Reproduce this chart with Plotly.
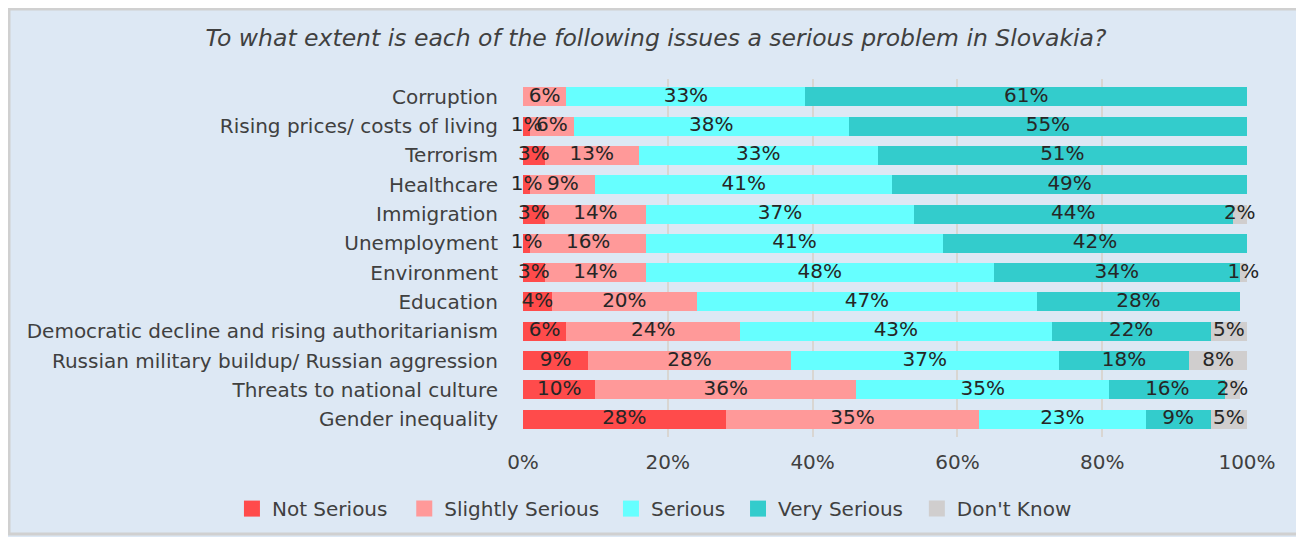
import plotly.graph_objects as go

# the page adds an 8px body margin, so the figure is a bit smaller than the window
W, H = 1296, 529
MARGIN = dict(l=515, r=57, t=71, b=100, autoexpand=False)

BG_COLOR = '#dde8f4'
TEXT_COLOR = '#404040'
GRID_COLOR = '#d9d6d2'
FONT = 'DejaVu Sans'
FONT_SIZE = 20

issues = [
    'Corruption',
    'Rising prices/ costs of living',
    'Terrorism',
    'Healthcare',
    'Immigration',
    'Unemployment',
    'Environment',
    'Education',
    'Democratic decline and rising authoritarianism',
    'Russian military buildup/ Russian aggression',
    'Threats to national culture',
    'Gender inequality',
]

not_serious = [0, 1, 3, 1, 3, 1, 3, 4, 6, 9, 10, 28]
slightly_serious = [6, 6, 13, 9, 14, 16, 14, 20, 24, 28, 36, 35]
serious = [33, 38, 33, 41, 37, 41, 48, 47, 43, 37, 35, 23]
very_serious = [61, 55, 51, 49, 44, 42, 34, 28, 22, 18, 16, 9]
dont_know = [0, 0, 0, 0, 2, 0, 1, 0, 5, 8, 2, 5]

series = [
    ('Not Serious', not_serious, '#ff4b4b'),
    ('Slightly Serious', slightly_serious, '#ff9999'),
    ('Serious', serious, '#66ffff'),
    ('Very Serious', very_serious, '#33cccc'),
    ("Don't Know", dont_know, '#d0cece'),
]

x_ticks = [0, 20, 40, 60, 80, 100]

# left edge of each legend entry (paper coords) - legend is laid out by hand
legend_x = [-0.402, -0.164, 0.1215, 0.297, 0.544]

fig = go.Figure()
for name, values, colour in series:
    fig.add_trace(go.Bar(
        y=issues, x=values, name=name, orientation='h',
        marker=dict(color=colour, line_width=0),
        hoverinfo='x+y+name', showlegend=False,
    ))

# data labels on top of every bar so tiny segments overflow like in Excel
cum = [0] * len(issues)
for name, values, colour in series:
    mids = [c + v / 2 for c, v in zip(cum, values)]
    cum = [c + v for c, v in zip(cum, values)]
    fig.add_trace(go.Scatter(
        x=mids, y=issues, mode='text',
        text=[f'{v}%' if v > 0 else '' for v in values],
        textposition='middle center', cliponaxis=False,
        textfont=dict(color='#262626', size=FONT_SIZE, family=FONT),
        showlegend=False, hoverinfo='skip',
    ))

# legend entries with big square swatches, one legend box each
for i, (name, values, colour) in enumerate(series):
    fig.add_trace(go.Scatter(
        x=[None], y=[None], mode='markers', name=name,
        marker=dict(symbol='square', size=16, color=colour),
        showlegend=True, hoverinfo='skip',
        legend='legend' if i == 0 else f'legend{i + 1}',
    ))

legend_style = dict(
    orientation='h', y=-0.2, yanchor='middle', xanchor='left',
    font=dict(size=FONT_SIZE, color=TEXT_COLOR, family=FONT),
    itemwidth=30, bgcolor='rgba(0,0,0,0)',
)
legends = {}
for i, lx in enumerate(legend_x):
    key = 'legend' if i == 0 else f'legend{i + 1}'
    legends[key] = dict(legend_style, x=lx)

fig.update_layout(
    barmode='stack',
    bargap=0.35,
    width=W, height=H,
    margin=MARGIN,
    paper_bgcolor=BG_COLOR,
    plot_bgcolor=BG_COLOR,
    font=dict(family=FONT, color=TEXT_COLOR, size=FONT_SIZE),
    title=dict(
        text='<i>To what extent is each of the following issues a serious problem in Slovakia?</i>',
        x=0.5, xanchor='center', y=0.9433, yanchor='middle',
        font=dict(size=23.5, color=TEXT_COLOR, family=FONT),
    ),
    **legends,
)

fig.update_xaxes(
    range=[0, 100], tickvals=x_ticks, ticktext=[f'{t}%' for t in x_ticks],
    showgrid=True, gridcolor=GRID_COLOR, gridwidth=2,
    zeroline=False, showline=False, automargin=False,
    ticks='outside', ticklen=7, tickcolor='rgba(0,0,0,0)',
    tickfont=dict(size=FONT_SIZE, color=TEXT_COLOR),
    fixedrange=True,
)
fig.update_yaxes(
    autorange='reversed', showgrid=False, automargin=False,
    ticks='outside', ticklen=20, tickcolor='rgba(0,0,0,0)',
    tickfont=dict(size=FONT_SIZE, color=TEXT_COLOR),
    fixedrange=True,
)

# frame around the chart, like the original slide box
pw = W - MARGIN['l'] - MARGIN['r']
ph = H - MARGIN['t'] - MARGIN['b']
fig.add_shape(
    type='rect', xref='paper', yref='paper',
    x0=(1 - MARGIN['l']) / pw, x1=(W - 4 - MARGIN['l']) / pw,
    y0=-(H - 3 - ph - MARGIN['t']) / ph, y1=1 + (MARGIN['t'] - 1) / ph,
    line=dict(color='#d0d0d0', width=3), layer='below',
)

fig.write_html('out.html')
